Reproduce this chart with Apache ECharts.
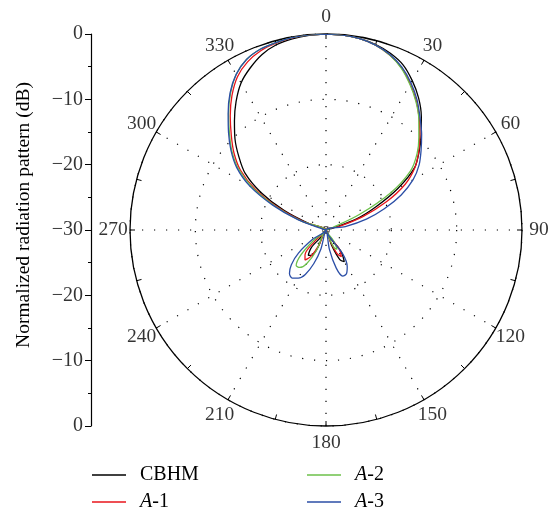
<!DOCTYPE html>
<html><head><meta charset="utf-8">
<script src="https://cdn.jsdelivr.net/npm/echarts@6/dist/echarts.min.js"></script>
<style>html,body{margin:0;padding:0;background:#fff}#c{width:551px;height:510px}</style>
</head><body><div id="c"></div>
<script>
// angle (degrees, clockwise from top) for every value below
const angles = [
  0, 5, 10, 15, 20, 25, 30, 35, 40, 45, 50, 55,
  60, 65, 70, 75, 80, 85, 90, 95, 100, 105, 110, 115,
  120, 125, 130, 135, 140, 145, 150, 155, 160, 165, 170, 175,
  180, 185, 190, 195, 200, 205, 210, 215, 220, 225, 230, 235,
  240, 245, 250, 255, 260, 265, 270, 275, 280, 285, 290, 295,
  300, 305, 310, 315, 320, 325, 330, 335, 340, 345, 350, 355
];
const seriesNames = ['CBHM', 'A-1', 'A-2', 'A-3'];
// normalized pattern in dB (values below -30 shown at -30)
const cbhm = [
  0, -0.05, -0.25, -0.6, -1.2, -2.1, -3.6, -5.3, -7.3, -9.4, -11.4, -13.5,
  -17.3, -21.5, -25, -29, -30, -30, -30, -30, -30, -30, -30, -30,
  -30, -30, -30, -30, -30, -26, -24.4, -25, -27.5, -30, -30, -30,
  -30, -30, -30, -30, -30, -27, -25.5, -25.3, -26.5, -30, -30, -30,
  -30, -30, -30, -30, -30, -30, -30, -30, -30, -30, -27.4, -22.9,
  -18.5, -14.9, -12.6, -10.3, -8.2, -6.0, -4.0, -2.6, -1.4, -0.65, -0.3, -0.08
];
const a1 = [
  0, -0.05, -0.25, -0.7, -1.5, -2.6, -4.2, -5.9, -7.8, -9.7, -11.5, -13.4,
  -16.0, -19.8, -24, -28, -30, -30, -30, -30, -30, -30, -30, -30,
  -30, -30, -30, -30, -30, -26.5, -25.3, -26, -28.5, -30, -30, -30,
  -30, -30, -30, -30, -30, -27.5, -25.3, -24.4, -25, -27.5, -30, -30,
  -30, -30, -30, -30, -30, -30, -30, -30, -30, -30, -26.5, -22,
  -17.5, -14, -11.6, -9.5, -7.2, -4.9, -2.9, -1.6, -0.8, -0.4, -0.15, -0.03
];
const a2 = [
  0, -0.05, -0.25, -0.7, -1.5, -2.7, -4.3, -6.0, -7.9, -9.9, -11.8, -14.2,
  -18.5, -24.3, -29, -30, -30, -30, -30, -30, -30, -30, -30, -30,
  -30, -30, -30, -30, -30, -28, -26.6, -27, -29, -30, -30, -30,
  -30, -30, -30, -30, -30, -26.5, -24, -23, -22.9, -24.5, -27.5, -30,
  -30, -30, -30, -30, -30, -30, -30, -30, -30, -30, -26, -21.5,
  -17.0, -13.6, -11.2, -9.1, -6.8, -4.5, -2.5, -1.2, -0.55, -0.3, -0.1, -0.02
];
const a3 = [
  0, -0.05, -0.25, -0.7, -1.4, -2.5, -4.0, -5.7, -7.6, -9.3, -11.0, -12.6,
  -14.6, -17.3, -20.5, -23.6, -27, -30, -30, -30, -30, -30, -30, -30,
  -30, -30, -30, -30, -30, -25.5, -23.5, -22.6, -22.5, -24, -27, -30,
  -30, -30, -30, -27, -24.5, -22.5, -21.5, -21, -21.3, -22.5, -24.5, -27.5,
  -30, -30, -30, -30, -30, -30, -30, -30, -30, -29.5, -25.5, -21,
  -16.5, -13.3, -11.0, -8.9, -6.7, -4.4, -2.5, -1.2, -0.55, -0.3, -0.1, -0.02
];
const angleTicks = [0, 30, 60, 90, 120, 150, 180, 210, 240, 270, 300, 330];
// left scale positions (axis runs 0 .. -60) and the labels printed there
const leftTickPos = [0, -10, -20, -30, -40, -50, -60];
const leftTickLabels = ['0', '\u221210', '\u221220', '\u221230', '\u221220', '\u221210', '0'];
const yTitle = 'Normalized radiation pattern (dB)';
const colors = ['#000000', '#e8151b', '#6cc04a', '#2b4ea6'];

const FONT = 'Liberation Serif';
const LABEL_RING = 2.6;   // radius-axis value just outside the 0 dB rim, where angle labels sit
const allValues = [cbhm, a1, a2, a3];
function toData(vals) {
  const d = vals.map((v, i) => [v, angles[i]]);
  d.push([vals[0], 360]);
  return d;
}
const dotted = { color: '#000', width: 1.2, type: [1.2, 10.8] };
const legendPos = [[92, 465], [92, 492], [307, 465], [307, 492]];
const chart = echarts.init(document.getElementById('c'), null, { renderer: 'canvas' });
chart.setOption({
  animation: false,
  backgroundColor: '#fff',
  polar: { center: [326, 230], radius: 196 },
  angleAxis: {
    type: 'value', min: 0, max: 360, interval: 30, startAngle: 90, clockwise: true,
    axisLine: { show: true, lineStyle: { color: '#000', width: 1.3 } },
    axisTick: { show: true, inside: true, length: 5, lineStyle: { color: '#000', width: 1 } },
    minorTick: { show: true, splitNumber: 2, length: 5, lineStyle: { color: '#000', width: 1 } },
    axisLabel: { show: false },
    splitLine: { show: true, lineStyle: dotted }
  },
  radiusAxis: {
    type: 'value', min: -30, max: 0, interval: 10,
    axisLine: { show: false }, axisTick: { show: false }, axisLabel: { show: false },
    splitLine: { show: true, lineStyle: dotted }
  },
  grid: { left: 91, top: 34, width: 1, height: 392 },
  xAxis: { type: 'value', show: false, min: 0, max: 1 },
  yAxis: {
    type: 'value', min: -60, max: 0, interval: 10,
    axisLine: { show: true, onZero: false, lineStyle: { color: '#000', width: 1.2 } },
    axisTick: { show: true, length: 6, lineStyle: { color: '#000', width: 1 } },
    minorTick: { show: true, splitNumber: 2, length: 3, lineStyle: { color: '#000', width: 1 } },
    splitLine: { show: false },
    axisLabel: { show: false }
  },
  graphic: [{
    type: 'text', x: 24, y: 215, rotation: Math.PI / 2, silent: true,
    style: {
      text: yTitle, fontFamily: FONT, fontSize: 19.5, fill: '#000',
      align: 'center', verticalAlign: 'middle'
    }
  }],
  legend: seriesNames.map((n, k) => ({
    data: [n], left: legendPos[k][0], top: legendPos[k][1], padding: 0,
    icon: 'rect', itemWidth: 34, itemHeight: 1.6,
    formatter: s => s.indexOf('A-') === 0 ? '{i|A}-' + s.slice(2) : s,
    textStyle: {
      fontFamily: FONT, fontSize: 20, color: '#000', padding: [0, 0, 0, 9],
      rich: { i: { fontFamily: FONT, fontSize: 20, fontStyle: 'italic', color: '#000' } }
    }
  })),
  series: allValues.map((vals, k) => ({
    name: seriesNames[k], type: 'line', coordinateSystem: 'polar',
    data: toData(vals), showSymbol: false, symbol: 'none', smooth: 0.3,
    color: colors[k], lineStyle: { color: colors[k], width: 1.3 }
  })).concat([{
    name: 'angleLabels', type: 'scatter', coordinateSystem: 'polar', clip: false,
    symbolSize: 0, silent: true,
    data: angleTicks.map(a => [LABEL_RING, a]),
    label: {
      show: true, position: 'inside', align: 'center', verticalAlign: 'middle',
      fontFamily: FONT, fontSize: 19.5, color: '#000',
      formatter: p => String(p.value[1])
    }
  }, {
    name: 'leftLabels', type: 'scatter', coordinateSystem: 'cartesian2d', clip: false,
    symbolSize: 0, silent: true,
    data: leftTickPos.map((p, i) => ({ value: [0, p], name: leftTickLabels[i] })),
    label: {
      show: true, position: 'left', distance: 8, align: 'right', verticalAlign: 'middle',
      fontFamily: FONT, fontSize: 20, color: '#000',
      formatter: p => p.name
    }
  }])
});
</script></body></html>
